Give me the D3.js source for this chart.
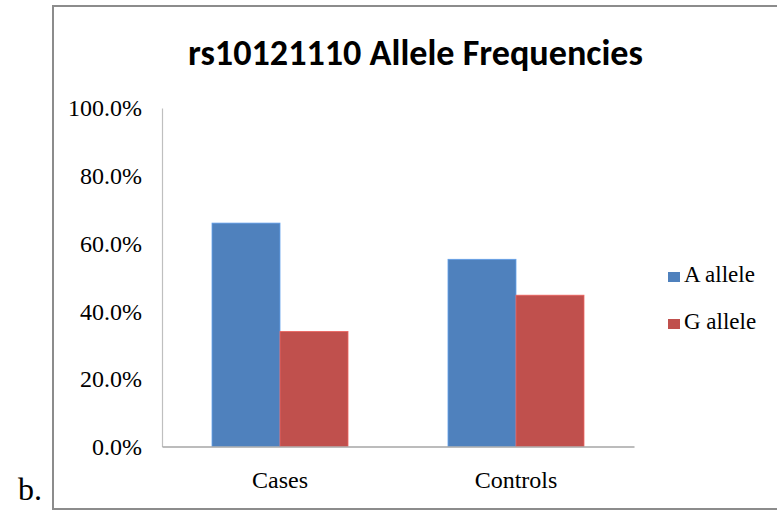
<!DOCTYPE html>
<html>
<head>
<meta charset="utf-8">
<script src="https://cdn.jsdelivr.net/npm/d3@7"></script>
<style>
  html, body { margin: 0; padding: 0; background: #fff; }
  svg { display: block; }
</style>
</head>
<body>
<svg id="chart" width="777" height="515"></svg>
<script>
// Allele frequencies (%) by group
const categories = ["Cases", "Controls"];
const seriesNames = ["A allele", "G allele"];
const aAllele = [66.0, 55.3];
const gAllele = [34.0, 44.7];
const yTicks = [0, 20, 40, 60, 80, 100];
const colors = ["#4F81BD", "#C0504D"];

const svg = d3.select("#chart");
const serif = `"Liberation Serif", serif`;
const titleFont = `"Carlito", sans-serif`;

function serifText(sel, size) {
  sel.style("font-family", serif)
    .style("font-size", size + "px")
    .attr("fill", "#000");
}

// Outer chart frame
svg.append("path")
  .attr("d", "M 790 6 H 53 V 509 H 790")
  .attr("fill", "none")
  .attr("stroke", "#8c8c8c")
  .attr("stroke-width", 2);

// Panel label
svg.append("text")
  .attr("x", 18).attr("y", 500)
  .text("b.")
  .call(serifText, 32);

// Title
svg.append("text")
  .attr("x", 188).attr("y", 65)
  .style("font-family", titleFont)
  .style("font-weight", "bold")
  .style("font-size", "36px")
  .attr("textLength", 455)
  .attr("lengthAdjust", "spacingAndGlyphs")
  .attr("fill", "#000")
  .text("rs10121110 Allele Frequencies");

const plot = { left: 162, right: 634, top: 108, bottom: 446.5 };

const x0 = d3.scaleBand()
  .domain(categories)
  .range([plot.left, plot.right])
  .paddingInner(0.4237)
  .paddingOuter(0.2119);

const x1 = d3.scaleBand()
  .domain(seriesNames)
  .range([0, x0.bandwidth()]);

const y = d3.scaleLinear()
  .domain([0, 100])
  .range([plot.bottom, plot.top]);

// Y axis
const yAxis = svg.append("g")
  .attr("transform", `translate(${plot.left},0)`)
  .call(d3.axisLeft(y).tickValues(yTicks).tickSize(0).tickPadding(20)
    .tickFormat(d => d.toFixed(1) + "%"));
yAxis.attr("font-family", null).attr("font-size", null);
yAxis.select(".domain").attr("stroke", "#bfbfbf").attr("stroke-width", 1.2);
yAxis.selectAll("text")
  .attr("dy", "0.33em")
  .call(serifText, 24);

// Bars
const rows = categories.map((c, i) => ({ cat: c, vals: [aAllele[i], gAllele[i]] }));
const groups = svg.append("g").selectAll("g")
  .data(rows)
  .join("g")
  .attr("transform", d => `translate(${x0(d.cat)},0)`);

groups.selectAll("rect")
  .data(d => d.vals.map((v, j) => ({ key: seriesNames[j], v, j })))
  .join("rect")
  .attr("x", d => x1(d.key))
  .attr("y", d => y(d.v))
  .attr("width", x1.bandwidth())
  .attr("height", d => y(0) - y(d.v))
  .attr("fill", d => colors[d.j])
  .attr("stroke", d => d3.color(colors[d.j]).brighter(0.6))
  .attr("stroke-width", 0.8);

// X axis
const xAxis = svg.append("g")
  .attr("transform", `translate(0,${plot.bottom})`)
  .call(d3.axisBottom(x0).tickSize(0).tickPadding(24).tickSizeOuter(0));
xAxis.attr("font-family", null).attr("font-size", null);
xAxis.select(".domain").attr("stroke", "#a6a6a6").attr("stroke-width", 1.5);
xAxis.selectAll("text")
  .call(serifText, 24);

// Legend
const legend = svg.append("g").selectAll("g")
  .data(seriesNames)
  .join("g")
  .attr("transform", (d, i) => `translate(668,${272 + i * 47})`);
legend.append("rect")
  .attr("width", 12).attr("height", 10)
  .attr("fill", (d, i) => colors[i]);
legend.append("text")
  .attr("x", 16).attr("y", 10)
  .text(d => d)
  .call(serifText, 23);
</script>
</body>
</html>
